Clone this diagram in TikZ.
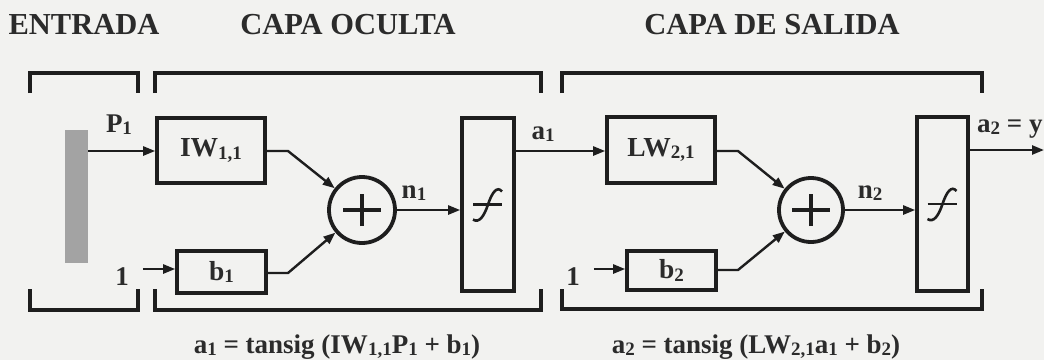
\documentclass[tikz,border=0pt]{standalone}
\usepackage{fontspec}
\setmainfont{Liberation Serif}
\usetikzlibrary{arrows.meta}
\definecolor{ink}{HTML}{1E1E1E}
\definecolor{txt}{HTML}{2B2B2B}
\definecolor{barfill}{HTML}{A3A3A3}
\definecolor{bgc}{HTML}{F2F2F0}
\newcommand\ssb[1]{\raisebox{-2.5pt}{\fontsize{19}{19}\selectfont #1}}
\begin{document}
\begin{tikzpicture}[x=1pt,y=-1pt,
  blockbox/.style={draw=ink, line width=3.6pt, inner sep=0pt, text=txt,
    font=\fontsize{27.5}{27.5}\selectfont\bfseries},
  sumnode/.style={circle, draw=ink, line width=3.8pt, inner sep=0pt, minimum size=66pt},
  lbl/.style={inner sep=0pt, anchor=base, text=txt, font=\fontsize{27}{27}\selectfont\bfseries},
  head/.style={inner sep=0pt, anchor=base, text=txt, font=\fontsize{30.5}{30.5}\selectfont\bfseries},
  conn/.style={draw=ink, line width=2.4pt},
  arr/.style={conn, -{Triangle[length=12pt,width=9pt]}},
  bracket/.style={draw=ink, line width=3.8pt},
  fsig/.pic={
    \draw[ink, line width=2.2pt] (-15,0) -- (14,0);
    \draw[ink, line width=2.6pt] (-15,15) .. controls (-9,19) and (-4,12) .. (0,0)
      .. controls (4,-12) and (9,-19) .. (14,-13);
  }]
\useasboundingbox[fill=bgc] (0,0) rectangle (1044,360);

% headings
\node[head] (hin)  at (84,34)  {ENTRADA};
\node[head] (hhid) at (348,34) {CAPA OCULTA};
\node[head] (hout) at (772,34) {CAPA DE SALIDA};

% brackets
\draw[bracket] (30,93) -- (30,73) -- (138,73) -- (138,93);
\draw[bracket] (155,93) -- (155,73) -- (541,73) -- (541,93);
\draw[bracket] (562,93) -- (562,73) -- (982,73) -- (982,93);
\draw[bracket] (30,289) -- (30,310) -- (138,310) -- (138,289);
\draw[bracket] (155,289) -- (155,310) -- (541,310) -- (541,289);
\draw[bracket] (562,289) -- (562,309) -- (982,309) -- (982,289);

% input
\node[fill=barfill, inner sep=0pt, minimum width=23pt, minimum height=133pt] (bar) at (76.5,196.5) {};
\node[lbl] (p1) at (119,132) {P\ssb{1}};

% hidden layer
\node[blockbox, minimum width=108pt, minimum height=65pt] (iw) at (211,150.5) {IW\ssb{1,1}};
\node[blockbox, minimum width=89pt, minimum height=42pt] (b1) at (221.5,272) {b\ssb{1}};
\node[sumnode] (sum1) at (362,210) {};
\node[blockbox, minimum width=52pt, minimum height=173pt] (f1) at (488,204.5) {};
\node[lbl] (one1) at (122,285) {1};
\node[lbl] (n1) at (414,198) {n\ssb{1}};
\node[lbl] (a1) at (543,139) {a\ssb{1}};
\coordinate (k1) at (288,151);
\coordinate (k2) at (288,273);

% output layer
\node[blockbox, minimum width=108pt, minimum height=66pt] (lw) at (661,150) {LW\ssb{2,1}};
\node[blockbox, minimum width=89pt, minimum height=39pt] (b2) at (671.5,270.5) {b\ssb{2}};
\node[sumnode, minimum size=64pt] (sum2) at (811,210) {};
\node[blockbox, minimum width=51pt, minimum height=174pt] (f2) at (942.5,204) {};
\node[lbl] (one2) at (573,285) {1};
\node[lbl] (n2) at (870,198) {n\ssb{2}};
\node[lbl, anchor=base west] (a2) at (977,132) {a\ssb{2} = y};
\coordinate (k3) at (738,151);
\coordinate (k4) at (738,270);
\coordinate (out) at (1044,150);

% plus signs and transfer symbols
\draw[ink, line width=3.6pt] ([xshift=-19pt]sum1.center) -- ([xshift=19pt]sum1.center)
  ([yshift=-16pt]sum1.center) -- ([yshift=16pt]sum1.center);
\draw[ink, line width=3.6pt] ([xshift=-19pt]sum2.center) -- ([xshift=19pt]sum2.center)
  ([yshift=-16pt]sum2.center) -- ([yshift=16pt]sum2.center);
\pic at (f1.center) {fsig};
\pic at (f2.center) {fsig};

% connectors
\draw[arr] (bar.east |- 0,151) -- (iw.west |- 0,151);
\draw[arr] (iw.east |- k1) -- (k1) -- (sum1);
\draw[arr, shorten <=14pt] (one1.east |- 0,269) -- (b1.west |- 0,269);
\draw[arr] (b1.east |- k2) -- (k2) -- (sum1);
\draw[arr] (sum1.east) -- (sum1.east -| f1.west);
\draw[arr] (f1.east |- k3) -- (lw.west |- k3);
\draw[arr] (lw.east |- k3) -- (k3) -- (sum2);
\draw[arr, shorten <=14pt] (one2.east |- 0,269) -- (b2.west |- 0,269);
\draw[arr] (b2.east |- k4) -- (k4) -- (sum2);
\draw[arr] (sum2.east) -- (sum2.east -| f2.west);
\draw[arr] (f2.east |- out) -- (out);

% equations
\node[lbl] (eq1) at (337,353) {a\ssb{1} = tansig (IW\ssb{1,1}P\ssb{1} + b\ssb{1})};
\node[lbl] (eq2) at (756,353) {a\ssb{2} = tansig (LW\ssb{2,1}a\ssb{1} + b\ssb{2})};
\end{tikzpicture}
\end{document}
